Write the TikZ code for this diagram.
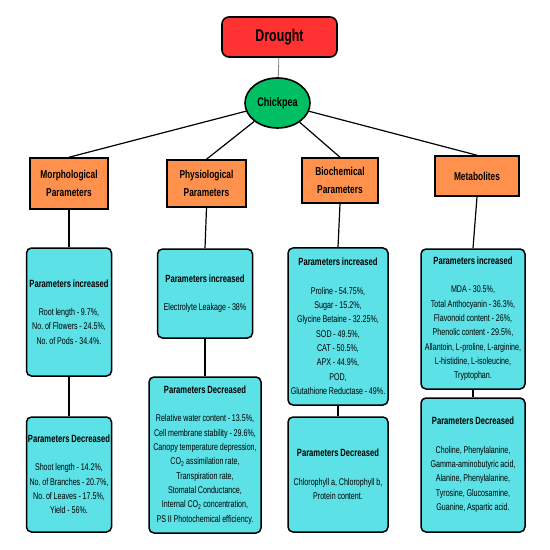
\documentclass[tikz,border=0pt]{standalone}
\usepackage{fontspec}
\setmainfont{Liberation Sans}[FakeStretch=0.73, WordSpace=0.9]
\frenchspacing
\usetikzlibrary{shapes.geometric}
\definecolor{droughtred}{HTML}{FF3131}
\definecolor{chickgreen}{HTML}{00BF63}
\definecolor{paramorange}{HTML}{FF914D}
\definecolor{resultcyan}{HTML}{5CE1E6}
\newcommand{\headline}[1]{{\fontsize{10.5}{12}\selectfont\bfseries #1}}
\begin{document}
\begin{tikzpicture}[x=1bp,y=-1bp,
    link/.style={line width=1.2bp, black},
    rootbox/.style={draw, line width=1.6bp, fill=droughtred, rounded corners=7bp,
      minimum width=115bp, minimum height=40bp, font=\fontsize{17}{19}\selectfont\bfseries},
    cropnode/.style={ellipse, draw, line width=1.6bp, fill=chickgreen,
      minimum width=65bp, minimum height=50bp, inner sep=0pt, font=\fontsize{12.5}{14}\selectfont\bfseries},
    groupbox/.style={draw, line width=1.5bp, fill=paramorange, align=center,
      font=\fontsize{11.5}{18}\selectfont\bfseries, inner sep=1bp},
    resultbox/.style={draw, line width=1.5bp, fill=resultcyan, rounded corners=5bp,
      align=center, inner sep=1bp, font=\fontsize{9.8}{14.4}\selectfont}]
        \useasboundingbox (0,0) rectangle (550,550);
        \node[rootbox] (drought) at (279.5,37) {Drought};
        \node[cropnode] (chickpea) at (277.5,103) {Chickpea};
        \node[groupbox, minimum width=78bp, minimum height=51bp] (morph) at (69,183.5) {Morphological\\Parameters};
        \node[groupbox, minimum width=79bp, minimum height=47bp] (physio) at (206.5,183.5) {Physiological\\Parameters};
        \node[groupbox, minimum width=76bp, minimum height=45bp] (biochem) at (340,180.5) {Biochemical\\Parameters};
        \node[groupbox, minimum width=84bp, minimum height=40bp] (metab) at (477,176) {Metabolites};
        % increased / decreased boxes
        \node[resultbox, minimum width=85bp, minimum height=128bp] (morphinc) at (69,312)
          {\headline{Parameters increased}\\[14bp]
           Root length - 9.7\%,\\No. of Flowers - 24.5\%,\\No. of Pods - 34.4\%.};
        \node[resultbox, minimum width=85bp, minimum height=115bp] (morphdec) at (69,474.5)
          {\headline{Parameters Decreased}\\[14bp]
           Shoot length - 14.2\%,\\No. of Branches - 20.7\%,\\No. of Leaves - 17.5\%,\\Yield - 56\%.};
        \node[resultbox, minimum width=95bp, minimum height=89bp] (physinc) at (205,293.5)
          {\headline{Parameters increased}\\[14bp]
           Electrolyte Leakage - 38\%};
        \node[resultbox, minimum width=112bp, minimum height=156bp] (physdec) at (205,455)
          {\headline{Parameters Decreased}\\[14bp]
           Relative water content - 13.5\%,\\Cell membrane stability - 29.6\%,\\Canopy temperature depression,\\
           CO\textsubscript{2} assimilation rate,\\Transpiration rate,\\Stomatal Conductance,\\
           Internal CO\textsubscript{2} concentration,\\PS II Photochemical efficiency.};
        \node[resultbox, minimum width=100bp, minimum height=157bp] (bioinc) at (338,326.5)
          {\headline{Parameters increased}\\[14bp]
           Proline - 54.75\%,\\Sugar - 15.2\%,\\Glycine Betaine - 32.25\%,\\SOD - 49.5\%,\\
           CAT - 50.5\%,\\APX - 44.9\%,\\POD,\\Glutathione Reductase - 49\%.};
        \node[resultbox, minimum width=100bp, minimum height=115bp] (biodec) at (338,474.5)
          {\headline{Parameters Decreased}\\[14bp]
           Chlorophyll a, Chlorophyll b,\\Protein content.};
        \node[resultbox, minimum width=104bp, minimum height=140bp] (metinc) at (473,319)
          {\headline{Parameters increased}\\[14bp]
           MDA - 30.5\%,\\Total Anthocyanin - 36.3\%,\\Flavonoid content - 26\%,\\Phenolic content - 29.5\%,\\
           Allantoin, L-proline, L-arginine,\\L-histidine, L-isoleucine,\\Tryptophan.};
        \node[resultbox, minimum width=104bp, minimum height=134bp] (metdec) at (473,465)
          {\headline{Parameters Decreased}\\[14bp]
           Choline, Phenylalanine,\\Gamma-aminobutyric acid,\\Alanine, Phenylalanine,\\
           Tyrosine, Glucosamine,\\Guanine, Aspartic acid.};
        % connectors
        \draw[gray, line width=0.8bp] (drought) -- (chickpea);
        \draw[link] (chickpea) -- (morph.north);
        \draw[link] (chickpea) -- (physio.north);
        \draw[link] (chickpea) -- (biochem.north);
        \draw[link] (chickpea) -- (metab.north);
        \draw[link] (morph) -- (morphinc);
        \draw[link] (morphinc) -- (morphdec);
        \draw[link] (physio.south) -- (physinc.north);
        \draw[link] (physinc) -- (physdec);
        \draw[link] (biochem.south) -- (bioinc.north);
        \draw[link] (bioinc) -- (biodec);
        \draw[link] (metab.south) -- (metinc.north);
        \draw[link] (metinc) -- (metdec);
    \end{tikzpicture}
\end{document}
